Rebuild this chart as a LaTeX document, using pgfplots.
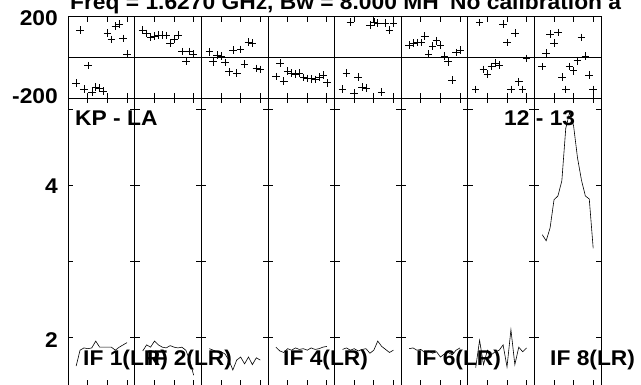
\documentclass[border=0pt]{standalone}
\usepackage{pgfplots}
\usepackage{pgfplotstable}
\pgfplotsset{compat=1.18}
\usepackage{fontspec}
\setmainfont{Liberation Sans}[FakeStretch=1.07]
\newcommand{\lbl}{\fontsize{21.3}{24}\selectfont\bfseries}

\pgfplotstableread{
ch p1 p2 p3 p4 p5 p6 p7 p8
2 -125 135 28 -94 -154 61 -156 -45
3 135 118 -21 -28 -76 70 171 21
4 -154 100 12 -115 174 73 -58 114
5 -40 105 7 -66 -174 73 -81 70
6 -169 110 -25 -77 -96 105 -45 122
7 -145 110 -70 -81 -145 17 -28 -97
8 -150 108 37 -75 -150 56 -37 -156
9 -164 71 -75 -99 159 82 164 -45
10 121 91 40 -102 174 61 73 -65
11 89 110 -32 -104 169 7 -156 -16
12 154 29 75 -108 -169 -21 119 99
13 164 -20 70 -97 169 -110 -119 7
14 94 29 -53 -86 135 24 -156 -86
15 17 17 -58 -124 169 37 -4 -156
}\phasetab

\pgfplotstableread{
ch a1 a2 a3 a4 a5 a6 a7 a8
2 1.62 1.82 1.85 1.87 1.84 1.85 1.60 3.35
3 1.83 1.90 1.83 1.82 1.86 1.86 1.96 3.27
4 1.86 1.87 1.81 1.80 1.83 1.83 1.64 3.44
5 1.85 1.95 1.81 1.85 1.85 1.84 1.83 3.81
6 1.86 1.90 1.78 1.83 1.82 1.80 1.77 3.86
7 1.95 1.87 1.70 1.86 1.84 1.82 1.81 4.06
8 1.87 1.86 1.57 1.84 1.85 1.79 1.83 4.75
9 1.87 1.89 1.70 1.85 1.79 1.81 1.90 4.96
10 1.87 1.87 1.74 1.83 1.83 1.74 1.61 4.78
11 1.87 1.86 1.65 1.86 1.95 1.78 2.10 4.36
12 1.83 1.87 1.74 1.84 1.88 1.80 1.64 4.07
13 1.87 1.83 1.64 1.85 1.84 1.77 1.87 3.86
14 1.90 1.70 1.73 1.87 1.80 1.83 1.81 3.82
15 1.93 1.50 1.70 1.88 1.83 1.86 1.86 3.17
}\amptab

\pgfplotsset{
  colax/.style={
    scale only axis, width=66.59pt, anchor=south west,
    xmin=0, xmax=17, xtick={5,10,15}, xticklabels={},
    tick align=inside, tick pos=both, major tick length=5pt,
    axis line style={line width=0.9pt}, every tick/.style={line width=0.8pt, black},
    clip=false,
  }
}

\begin{document}
\begin{tikzpicture}
\path[use as bounding box] (0pt,0pt) rectangle (641pt,384pt);
\clip (0pt,0pt) rectangle (641pt,384pt);
\foreach \i in {1,...,8}{
  % phase panel
  \begin{axis}[colax, at={({68.3pt+66.59pt*(\i-1)},285.7pt)}, height=81.6pt,
      ymin=-200, ymax=200, ytick=\empty]
    \draw[line width=0.8pt] (axis cs:0,0) -- (axis cs:17,0);
    \addplot[only marks, mark=+, mark size=3.8pt, mark options={line width=0.6pt}] table[x=ch, y=p\i] {\phasetab};
  \end{axis}
  % amplitude panel
  \begin{axis}[colax, at={({68.3pt+66.59pt*(\i-1)},-1pt)}, height=286.7pt,
      ymin=1.372, ymax=5.145, ytick={2,3,4,5}, yticklabels={}]
    \addplot[line width=0.6pt, mark=none] table[x=ch, y=a\i] {\amptab};
  \end{axis}
}
\node[anchor=base west, inner sep=0, font=\lbl] at (70pt,374pt) {Freq = 1.6270 GHz, Bw = 8.000 MH};
\node[anchor=base west, inner sep=0, font=\lbl] at (450pt,374pt) {No calibration a};
\node[anchor=base east, inner sep=0, font=\lbl] at (58pt,358pt) {200};
\node[anchor=base east, inner sep=0, font=\lbl] at (58pt,281pt) {-200};
\node[anchor=base east, inner sep=0, font=\lbl] at (58pt,191pt) {4};
\node[anchor=base east, inner sep=0, font=\lbl] at (58pt,37pt) {2};
\node[anchor=base west, inner sep=0, font=\lbl] at (75pt,259pt) {KP - LA};
\node[anchor=base west, inner sep=0, font=\lbl] at (504pt,259pt) {12 - 13};
\node[anchor=base west, inner sep=0, font=\lbl] at (83pt,18.5pt) {IF 1(LR)};
\node[anchor=base west, inner sep=0, font=\lbl] at (147pt,18.5pt) {IF 2(LR)};
\node[anchor=base west, inner sep=0, font=\lbl] at (283pt,18.5pt) {IF 4(LR)};
\node[anchor=base west, inner sep=0, font=\lbl] at (416pt,18.5pt) {IF 6(LR)};
\node[anchor=base west, inner sep=0, font=\lbl] at (550pt,18.5pt) {IF 8(LR)};
\end{tikzpicture}
\end{document}
